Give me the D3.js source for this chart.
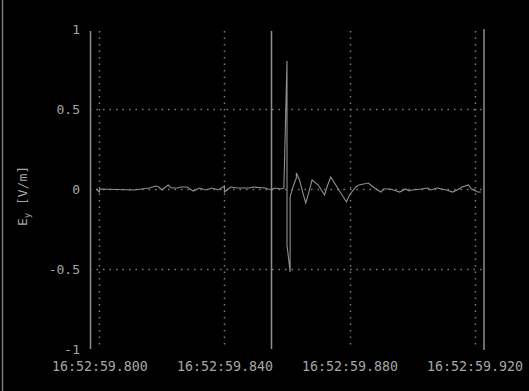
<!DOCTYPE html>
<html>
<head>
<meta charset="utf-8">
<script src="https://cdn.jsdelivr.net/npm/d3@7"></script>
<style>
  html, body { margin: 0; padding: 0; background: #000; }
  svg { display: block; }
</style>
</head>
<body>
<svg id="chart" width="529" height="391"></svg>
<script>
// Sample times in ms after 16:52:59.800 and field values (a.u.)
const timeMs = [-0.64, 0, 0.64, 11.2, 16.64, 18.24, 19.84, 20.8, 22.08, 23.04, 25.28, 26.24, 28.48,
  30.4, 32.64, 34.24, 36.48, 38.4, 40.64, 40.96, 42.24, 44.48, 48.0, 49.6, 53.44, 55.04, 56.64,
  58.24, 59.68, 60.06, 60.32, 60.54, 60.96, 61.22, 61.5, 61.7, 62.08, 63.04, 63.68, 64.32, 65.28,
  66.56, 67.52, 68.8, 70.4, 72.0, 73.28, 74.56, 75.84, 77.44, 79.36, 80.64, 82.24, 83.84, 86.08,
  88.0, 90.24, 91.84, 93.44, 95.04, 96.64, 98.24, 99.84, 100.8, 103.04, 105.28, 106.88, 108.48,
  111.04, 113.6, 115.2, 116.8, 118.4, 119.68, 121.28, 122.24];
const fieldValues = [0, -0.019, 0, -0.006, 0.006, 0.019, 0.0125, -0.006, 0.025, 0.006, 0.006, 0.0125, 0.0125,
  -0.0125, 0.006, -0.006, 0.006, -0.006, 0.019, -0.019, 0.0125, 0.006, 0.006, 0.0125, 0.006, -0.006, 0.006,
  0, 0.006, 0.8, 0.731, -0.2875, -0.35, -0.519, -0.3625, -0.05, 0.019, 0.069, 0.1, 0.056, -0.019,
  -0.0875, -0.019, 0.056, 0.025, -0.0375, 0.025, 0.075, 0.044, -0.019, -0.081, -0.0375, 0.0125, 0.025, 0.0375,
  0.006, -0.019, 0, 0, -0.0125, -0.019, 0, -0.0125, -0.006, 0, 0.006, -0.006, 0.006,
  -0.006, -0.019, 0, 0.0125, 0.025, 0, -0.019, -0.019];

// Axis setup
const startTime = new Date(2000, 0, 1, 16, 52, 59, 800);
const xDomainMs = [-2.56, 123.52];
const markerMs = 55.36;
const xTickMs = [0, 40, 80, 120];
const yTicks = [1, 0.5, 0, -0.5, -1];
const yTickLabels = ["1", "0.5", "0", "-0.5", "-1"];
const yGrid = [0.5, 0, -0.5];
const yTitle = "E";
const yTitleSub = "y";
const yTitleUnit = " [V/m]";

const toDate = ms => new Date(startTime.getTime() + ms);
const fmt = d3.timeFormat("%H:%M:%S.%L");

const svg = d3.select("#chart");
const plot = { left: 90, right: 484, top: 29, bottom: 349 };

const x = d3.scaleTime()
  .domain(xDomainMs.map(toDate))
  .range([plot.left, plot.right]);
const y = d3.scaleLinear().domain([-1, 1]).range([plot.bottom, plot.top]);

const lineCol = "#8e8e8e";
const gridCol = "#7a7a7a";
const textCol = "#a6a6a6";

// outer left border
svg.append("line").attr("x1", 2.5).attr("x2", 2.5).attr("y1", 0).attr("y2", 391)
  .attr("stroke", "#7a7a7a").attr("stroke-width", 1.5);

// dotted grid
svg.append("g").selectAll("line").data(xTickMs).join("line")
  .attr("x1", d => Math.round(x(toDate(d))) + 0.5)
  .attr("x2", d => Math.round(x(toDate(d))) + 0.5)
  .attr("y1", y(1) + 2).attr("y2", y(-1))
  .attr("stroke", gridCol).attr("stroke-width", 1.5).attr("stroke-dasharray", "1.5 5");
svg.append("g").selectAll("line").data(yGrid).join("line")
  .attr("x1", plot.left).attr("x2", plot.right)
  .attr("y1", d => Math.round(y(d)) + 0.5).attr("y2", d => Math.round(y(d)) + 0.5)
  .attr("stroke", gridCol).attr("stroke-width", 1.5).attr("stroke-dasharray", "1.5 5");

// left axis and right frame
const yAxis = d3.axisLeft(y).tickValues(yTicks).tickSize(0).tickPadding(10)
  .tickFormat((d, i) => yTickLabels[i]);
const gy = svg.append("g").attr("transform", `translate(${plot.left},0)`).call(yAxis);
gy.select(".domain").attr("stroke", lineCol).attr("stroke-width", 1.5)
  .attr("d", `M0.5,${plot.top + 2}V${plot.bottom}`);
gy.selectAll("text").attr("fill", textCol)
  .attr("font-family", "DejaVu Sans Mono").attr("font-size", 13)
  .attr("dy", "0.36em");

svg.append("line").attr("x1", plot.right).attr("x2", plot.right)
  .attr("y1", plot.top).attr("y2", plot.bottom + 1)
  .attr("stroke", lineCol).attr("stroke-width", 1.5);

// event marker
svg.append("line")
  .attr("x1", Math.round(x(toDate(markerMs))) + 0.5).attr("x2", Math.round(x(toDate(markerMs))) + 0.5)
  .attr("y1", plot.top + 2).attr("y2", plot.bottom)
  .attr("stroke", lineCol).attr("stroke-width", 1.5);

// bottom axis labels
const xAxis = d3.axisBottom(x).tickValues(xTickMs.map(toDate)).tickSize(0).tickFormat(fmt);
const gx = svg.append("g").attr("transform", `translate(0,${plot.bottom})`).call(xAxis);
gx.select(".domain").remove();
gx.selectAll("text").attr("fill", textCol)
  .attr("font-family", "DejaVu Sans Mono").attr("font-size", 14)
  .attr("y", 22).attr("dy", 0)
  .attr("textLength", 96).attr("lengthAdjust", "spacingAndGlyphs");

// y title
const title = svg.append("text")
  .attr("transform", "translate(27,196) rotate(-90)")
  .attr("text-anchor", "middle")
  .attr("fill", textCol).attr("font-family", "DejaVu Sans Mono").attr("font-size", 13);
title.append("tspan").text(yTitle);
title.append("tspan").attr("font-size", 9).attr("dy", 3).text(yTitleSub);
title.append("tspan").attr("dy", -3).text(yTitleUnit);

// trace
const pts = timeMs.map((t, i) => [t, fieldValues[i]]);
const line = d3.line().x(d => x(toDate(d[0]))).y(d => y(d[1]));
svg.append("path").datum(pts)
  .attr("d", line).attr("fill", "none")
  .attr("stroke", "#909090").attr("stroke-width", 1.1);
</script>
</body>
</html>
